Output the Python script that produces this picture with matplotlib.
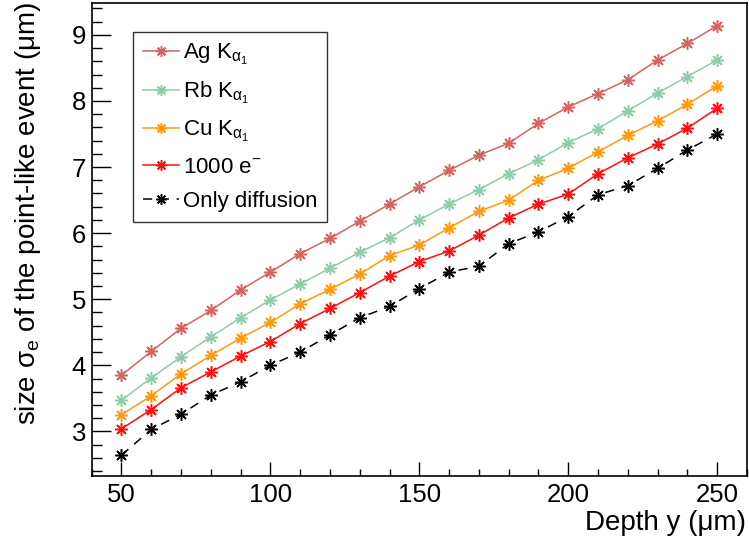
import matplotlib
matplotlib.use("Agg")
import matplotlib.pyplot as plt
from matplotlib.ticker import MultipleLocator

plt.rcParams["font.family"] = ["Liberation Sans", "DejaVu Sans"]
plt.rcParams["mathtext.fontset"] = "custom"
plt.rcParams["mathtext.rm"] = "Liberation Sans"
plt.rcParams["mathtext.it"] = "Liberation Sans"
plt.rcParams["mathtext.sf"] = "Liberation Sans"

depth = [50, 60, 70, 80, 90, 100, 110, 120, 130, 140, 150,
         160, 170, 180, 190, 200, 210, 220, 230, 240, 250]

ag = [3.85, 4.21, 4.56, 4.83, 5.14, 5.41, 5.69, 5.92, 6.18, 6.44, 6.70,
      6.95, 7.18, 7.36, 7.66, 7.91, 8.11, 8.32, 8.62, 8.87, 9.14]
rb = [3.47, 3.81, 4.13, 4.43, 4.72, 4.99, 5.23, 5.47, 5.71, 5.93, 6.20,
      6.44, 6.66, 6.90, 7.11, 7.37, 7.58, 7.85, 8.12, 8.37, 8.62]
cu = [3.25, 3.54, 3.87, 4.15, 4.41, 4.65, 4.93, 5.15, 5.38, 5.66, 5.82,
      6.08, 6.33, 6.50, 6.80, 6.98, 7.23, 7.48, 7.70, 7.95, 8.23]
e1000 = [3.04, 3.33, 3.66, 3.90, 4.14, 4.36, 4.63, 4.86, 5.10, 5.35, 5.57,
         5.73, 5.97, 6.23, 6.44, 6.59, 6.90, 7.14, 7.35, 7.59, 7.89]
diffusion = [2.64, 3.03, 3.26, 3.55, 3.75, 4.00, 4.20, 4.46, 4.72, 4.89, 5.16,
             5.41, 5.50, 5.84, 6.02, 6.25, 6.58, 6.72, 6.98, 7.26, 7.50]

series = [
    (ag, "Ag K$_{\\mathrm{α}_1}$", "#d9625f", "-"),
    (rb, "Rb K$_{\\mathrm{α}_1}$", "#8fcca9", "-"),
    (cu, "Cu K$_{\\mathrm{α}_1}$", "#ff9a10", "-"),
    (e1000, "1000 e$^{-}$", "#ff1010", "-"),
    (diffusion, "Only diffusion", "black", (0, (6, 5))),
]

fig = plt.figure(figsize=(7.49, 5.45), dpi=100)
ax = fig.add_axes([0.1224, 0.1266, 0.8749, 0.8670])

for values, label, color, ls in series:
    ax.plot(depth, values, color=color, linestyle=ls, linewidth=1.1,
            marker=(8, 2, 0), markersize=9, markeredgewidth=1.1,
            markeredgecolor=color, label=label)

ax.set_xlim(40, 260)
ax.set_ylim(2.325, 9.475)

ax.xaxis.set_major_locator(MultipleLocator(50))
ax.xaxis.set_minor_locator(MultipleLocator(10))
ax.yaxis.set_major_locator(MultipleLocator(1))
ax.yaxis.set_minor_locator(MultipleLocator(0.2))

ax.tick_params(axis="x", which="major", direction="in", length=10, width=1, labelsize=18.5, pad=5)
ax.tick_params(axis="x", which="minor", direction="in", length=5, width=1)
ax.tick_params(axis="y", which="major", direction="in", length=14, width=1, labelsize=18.5, pad=4)
ax.tick_params(axis="y", which="minor", direction="in", length=7, width=1)
ax.tick_params(top=False, right=False, which="both")

for spine in ax.spines.values():
    spine.set_linewidth(1.2)

ax.set_xlabel("Depth y (μm)", fontsize=20, ha="right", va="center")
ax.xaxis.set_label_coords(0.998, -0.1)
ax.set_ylabel("size σ$_{\\mathrm{e}}$ of the point-like event (μm)", fontsize=20,
              ha="right", va="center")
ax.yaxis.set_label_coords(-0.097, 1.003)

leg = ax.legend(loc="upper left", bbox_to_anchor=(0.063, 0.94), borderaxespad=0,
                fontsize=16, frameon=True, fancybox=False, edgecolor="black",
                handlelength=1.6, labelspacing=0.58, borderpad=0.45, handletextpad=0.2,
                markerscale=0.85)
leg.get_frame().set_linewidth(1.0)

fig.savefig("out.png", dpi=100)
